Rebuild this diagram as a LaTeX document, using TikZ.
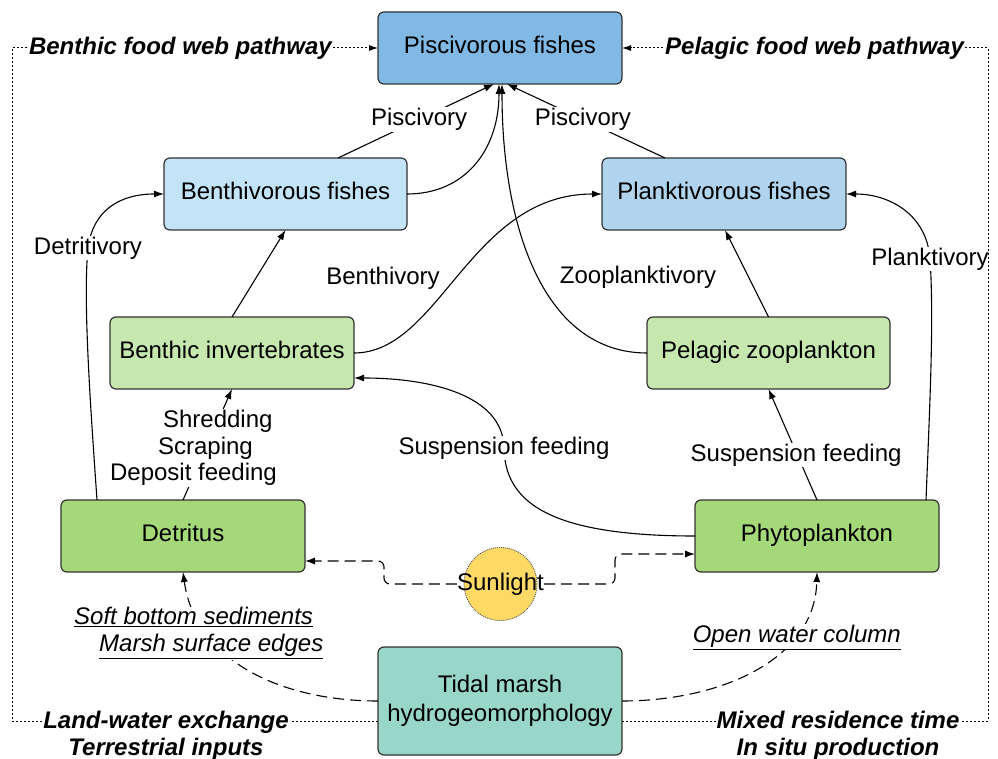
\documentclass[tikz,border=0pt]{standalone}
\usepackage{fontspec}
\setmainfont{Liberation Sans}
\usetikzlibrary{arrows.meta}
\definecolor{cPisc}{RGB}{128,185,228}
\definecolor{cBenF}{RGB}{194,228,246}
\definecolor{cPlaF}{RGB}{176,212,238}
\definecolor{cLG}{RGB}{198,232,175}
\definecolor{cG}{RGB}{164,216,120}
\definecolor{cTeal}{RGB}{152,214,200}
\definecolor{cSun}{RGB}{255,217,102}
\begin{document}
\begin{tikzpicture}[x=1pt,y=-1pt,
  txt/.style={font=\fontsize{24}{28}\selectfont},
  box/.style={txt, draw=black!80, line width=1.2pt, rounded corners=6pt, minimum width=244pt, minimum height=72pt, inner sep=2pt, outer sep=0pt, text height=17pt, text depth=6pt},
  lbl/.style={txt, fill=white, inner sep=1pt},
  blbl/.style={lbl, font=\fontsize{24}{27}\selectfont\bfseries\itshape},
  ilbl/.style={lbl, font=\fontsize{24}{27}\selectfont\itshape},
  arr/.style={line width=1.1pt, -{Latex[length=10pt,width=7pt]}},
  darr/.style={arr, dash pattern=on 11pt off 6pt},
  farr/.style={line width=1pt, dash pattern=on 2pt off 2pt, -{Latex[length=9pt,width=6pt]}},
  frameline/.style={line width=1pt, dash pattern=on 2pt off 2pt}
]
\useasboundingbox (0,0) rectangle (998,759);

% boxes
\node[box, fill=cPisc] (pisc) at (500,48) {Piscivorous fishes};
\node[box, fill=cBenF, minimum width=243pt] (benthf) at (285.5,194) {Benthivorous fishes};
\node[box, fill=cPlaF] (plankf) at (724,194) {Planktivorous fishes};
\node[box, fill=cLG] (binv) at (232,353) {Benthic invertebrates};
\node[box, fill=cLG, minimum width=243pt] (pzoo) at (768.5,353) {Pelagic zooplankton};
\node[box, fill=cG] (det) at (183,536) {Detritus};
\node[box, fill=cG] (phyto) at (817,536) {Phytoplankton};
\node[box, fill=cTeal, minimum height=108pt, align=center, text height=, text depth=, font=\fontsize{24}{29}\selectfont] (tidal) at (500,701) {Tidal marsh\\hydrogeomorphology};
\node[circle, fill=cSun, draw=black!70, dash pattern=on 1pt off 1pt, line width=0.8pt, minimum size=73pt, inner sep=0pt, outer sep=0pt] (sun) at (500.5,584) {};
\node[txt, inner sep=0pt] (sunt) at (sun) {Sunlight};

% free labels
\node[txt] (zpl) at (638,277) {Zooplanktivory};
\node[txt] (bvl) at (383,278) {Benthivory};

% piscivory
\draw[arr] ([xshift=52.5pt]benthf.north) -- node[lbl, pos=0.52]{Piscivory} ([xshift=-6pt]pisc.south);
\draw[arr] ([xshift=-59pt]plankf.north) -- node[lbl, pos=0.52]{Piscivory} ([xshift=7pt]pisc.south);
\draw[arr] (benthf.east) .. controls (465,194) and (499,150) .. ([xshift=-1pt]pisc.south);
\draw[arr] (pzoo.west) .. controls (545,353) and (502,230) .. ([xshift=2pt]pisc.south);

% benthivory
\draw[arr] (binv.east) .. controls (440,353) and (470,194) .. (plankf.west);
\draw[arr] (binv.north) -- (benthf.south);
\draw[arr] (pzoo.north) -- ([xshift=1pt]plankf.south);

% detritivory / planktivory
\draw[arr] ([xshift=-86pt]det.north) .. controls (90,400) and (83,300) .. (88,248) node[lbl]{Detritivory} .. controls (93,210) and (120,194) .. (benthf.west);
\draw[arr] ([xshift=109pt]phyto.north) .. controls (930,400) and (934,320) .. (930,259) node[lbl]{Planktivory} .. controls (927,215) and (890,194) .. (plankf.east);

% detritus to invertebrates
\draw[arr] (det.north) -- node[lbl, align=left, xshift=-14pt, yshift=-3.5pt, font=\fontsize{24}{26.5}\selectfont]{\hspace*{53pt}Shredding\\\hspace*{48pt}Scraping\\Deposit feeding} (binv.south);

% suspension feeding
\draw[arr] (phyto.north) -- node[lbl, pos=0.43, yshift=-3pt]{Suspension feeding} (pzoo.south);
\draw[arr] (phyto.west) .. controls (545,536) and (505,500) .. (504,448) node[lbl]{Suspension feeding} .. controls (503,395) and (430,378) .. ([yshift=-25pt]binv.east);

% sunlight
\draw[darr, rounded corners=6pt] (sunt.west) -- (384,584) -- (384,561) -- ([yshift=-25pt]det.east);
\draw[darr, rounded corners=6pt] (sunt.east) -- (615,584) -- (615,554) -- ([yshift=-18pt]phyto.west);

% hydrogeomorphology
\draw[darr] (tidal.west) .. controls (280,701) and (195,660) .. (det.south)
  node[ilbl, pos=0.75, xshift=-6pt, yshift=-4pt, align=left]{\underline{Soft bottom sediments}\\\hspace*{25pt}\underline{Marsh surface edges}};
\draw[darr] (tidal.east) .. controls (720,701) and (815,660) .. (phyto.south)
  node[ilbl, pos=0.73, yshift=-4pt]{\underline{Open water column}};

% pathways frame
\draw[farr] ([yshift=-20pt]tidal.west) -- (12,721) -- (12,48) -- node[blbl, pos=0.46]{Benthic food web pathway} (pisc.west);
\draw[farr] ([yshift=-20pt]tidal.east) -- (988,721) -- (988,48) -- node[blbl, pos=0.474]{Pelagic food web pathway} (pisc.east);
\node[blbl, align=center] (lwx) at (166,736) {Land-water exchange\\Terrestrial inputs};
\node[blbl, align=center] (mrt) at (838,736) {Mixed residence time\\In situ production};
\end{tikzpicture}
\end{document}
